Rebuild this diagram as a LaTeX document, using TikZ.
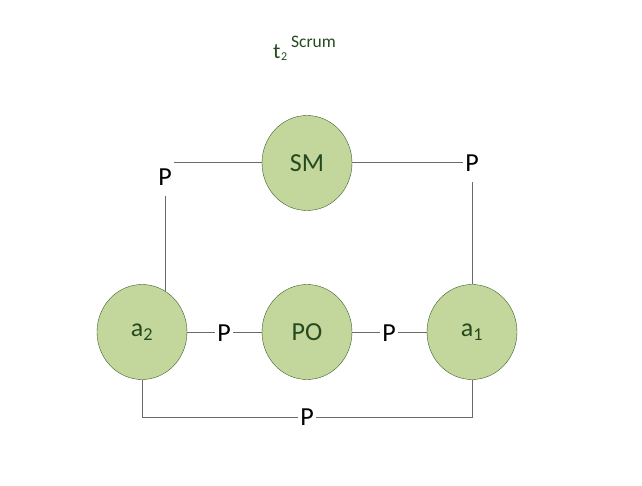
\documentclass[tikz,border=0pt]{standalone}
\usepackage{fontspec}
\setmainfont{Carlito}
\usetikzlibrary{shapes.geometric}

\definecolor{rolfill}{HTML}{C3D69B}
\definecolor{rolline}{HTML}{3B5F2E}
\definecolor{roltext}{HTML}{254A1F}
\definecolor{conline}{HTML}{6A6A6A}

\tikzset{
  rol/.style={ellipse, draw=rolline, fill=rolfill, text=roltext,
    minimum width=90pt, minimum height=95pt, inner sep=0pt,
    font=\fontsize{26}{30}\selectfont},
  etq/.style={anchor=base, inner xsep=2pt, inner ysep=1pt, text depth=9pt,
    font=\fontsize{26}{30}\selectfont},
  con/.style={draw=conline, line width=1pt},
}

\begin{document}
\begin{tikzpicture}[x=1pt,y=-1pt]
    \useasboundingbox (0,0) rectangle (642,486);

    % Titulo
    \node[anchor=base west, inner sep=0pt, text=roltext] (titulo) at (273,59)
        {\fontsize{22}{26}\selectfont t\hspace{0.5pt}\raisebox{-2pt}{\fontsize{12}{14}\selectfont 2}\hspace{4pt}\raisebox{11pt}{\fontsize{17.5}{20}\selectfont Scrum}};

    % Roles
    \foreach \nom/\x/\y/\txt in {
        SM/307/163/SM,
        atwo/142/332/a\textsubscript{2},
        PO/307/332/PO,
        aone/472/332/a\textsubscript{1}
        } {
        \node[rol] (\nom) at (\x,\y) {\txt};
    }

    % Etiquetas
    \foreach \nom/\x/\y in {
        pTL/165/186,
        pTR/472/172,
        pML/224/341,
        pMR/389/341,
        pB/307/425
        } {
        \node[etq] (\nom) at (\x,\y) {P};
    }
    \coordinate (pie) at (307,417);

    % Conexiones
    \draw[con] (SM.west) -- (SM.west -| pTL.east);
    \draw[con] (pTL.south) -- (pTL.south |- atwo.60);
    \draw[con] (SM.east) -- (SM.east -| pTR.west);
    \draw[con] (pTR.south) -- (aone.north);
    \draw[con] (atwo.east) -- (atwo.east -| pML.west);
    \draw[con] (atwo.east -| pML.east) -- (PO.west);
    \draw[con] (PO.east) -- (PO.east -| pMR.west);
    \draw[con] (PO.east -| pMR.east) -- (aone.west);
    \draw[con] (atwo.south) |- (pie -| pB.west);
    \draw[con] (pie -| pB.east) -| (aone.south);
\end{tikzpicture}
\end{document}
